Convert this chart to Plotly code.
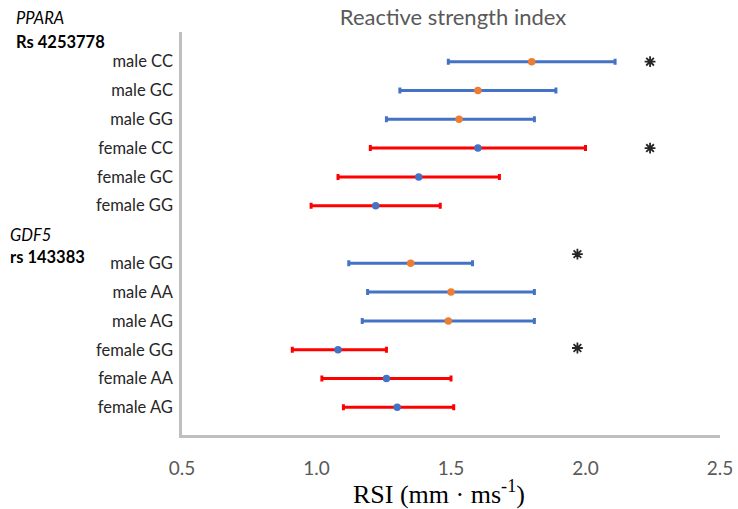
import plotly.graph_objects as go

# ---- data ----
labels = ["male CC", "male GC", "male GG", "female CC", "female GC", "female GG",
          "male GG", "male AA", "male AG", "female GG", "female AA", "female AG"]
rows = [0, 1, 2, 3, 4, 5, 7, 8, 9, 10, 11, 12]
sex = ["m", "m", "m", "f", "f", "f", "m", "m", "m", "f", "f", "f"]
means = [1.80, 1.60, 1.53, 1.60, 1.38, 1.22, 1.35, 1.50, 1.49, 1.08, 1.26, 1.30]
lower = [1.49, 1.31, 1.26, 1.20, 1.08, 0.98, 1.12, 1.19, 1.17, 0.91, 1.02, 1.10]
upper = [2.11, 1.89, 1.81, 2.00, 1.68, 1.46, 1.58, 1.81, 1.81, 1.26, 1.50, 1.51]
star_x = [2.24, 2.24, 1.97, 1.97]
star_y = [0, 3, 6.68, 9.94]
x_ticks = [0.5, 1.0, 1.5, 2.0, 2.5]

W, H = 738, 509
L, R, T, B = 182, 18, 32, 74
PW, PH = W - L - R, H - T - B

fig = go.Figure()

styles = {"m": dict(bar="#4472C4", pt="#ED7D31"), "f": dict(bar="#FF0000", pt="#4472C4")}
for s in ["m", "f"]:
    idx = [i for i in range(len(labels)) if sex[i] == s]
    fig.add_trace(go.Scatter(
        x=[means[i] for i in idx],
        y=[rows[i] for i in idx],
        mode="markers",
        marker=dict(color=styles[s]["pt"], size=7.5),
        error_x=dict(type="data", symmetric=False,
                     array=[upper[i] - means[i] for i in idx],
                     arrayminus=[means[i] - lower[i] for i in idx],
                     color=styles[s]["bar"], thickness=3, width=3),
        showlegend=False, hoverinfo="skip",
    ))

fig.add_trace(go.Scatter(
    x=star_x, y=star_y, mode="markers",
    marker=dict(symbol="asterisk-open", size=9, color="#262626",
                line=dict(width=1.8, color="#262626")),
    showlegend=False, hoverinfo="skip",
))

fig.update_xaxes(
    range=[0.5, 2.5], tickvals=x_ticks, ticktext=[f"{v:.1f}" for v in x_ticks],
    showgrid=False, zeroline=False, showline=True, linecolor="#BFBFBF", linewidth=2.5,
    ticks="", tickfont=dict(family="Lato", size=19, color="#595959"),
    ticklabelstandoff=14, automargin=False,
)
fig.update_yaxes(
    range=[12.96, -1.03], tickvals=rows, ticktext=labels,
    showgrid=False, zeroline=False, showline=True, linecolor="#BFBFBF", linewidth=2.5,
    ticks="", tickfont=dict(family="Lato", size=16.5, color="#262626"),
    ticklabelstandoff=3, automargin=False,
)

ann = [
    dict(text="<i>PPARA</i>", x=14, y=18),
    dict(text="<b>Rs 4253778</b>", x=14, y=42),
    dict(text="<i>GDF5</i>", x=8, y=235),
    dict(text="<b>rs 143383</b>", x=8, y=257),
]
for a in ann:
    fig.add_annotation(text=a["text"], x=(a["x"] - L) / PW, y=(H - B - a["y"]) / PH,
                       xref="paper", yref="paper", xanchor="left", yanchor="middle",
                       showarrow=False, font=dict(family="Lato", size=16.5, color="#000000"))

# x-axis title
fig.add_annotation(text="RSI (mm · ms<sup>-1</sup>)", x=(439 - L) / PW, y=(H - B - 492) / PH,
                   xref="paper", yref="paper", xanchor="center", yanchor="middle",
                   showarrow=False,
                   font=dict(family="Liberation Serif", size=26, color="#000000"))

fig.update_layout(
    width=W, height=H,
    margin=dict(l=L, r=R, t=T, b=B),
    plot_bgcolor="white", paper_bgcolor="white",
    title=dict(text="Reactive strength index", x=453 / W, xanchor="center",
               y=1 - 17 / H, yanchor="middle", yref="container",
               font=dict(family="Lato", size=22, color="#595959")),
)

fig.write_html("out.html", config={"displayModeBar": False},
               post_script="document.body.style.margin='0';")
